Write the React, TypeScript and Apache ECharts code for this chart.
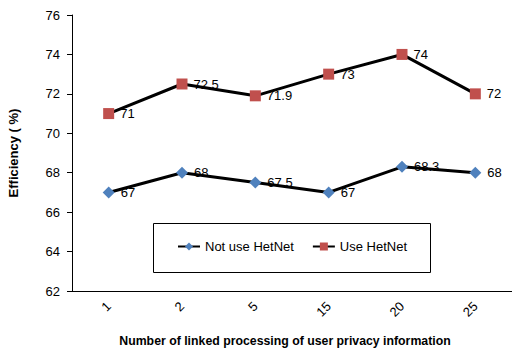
import React, { useEffect, useRef } from "react";
import * as echarts from "echarts";

const categories = ["1", "2", "5", "15", "20", "25"];
const notUseHetNet = [67, 68, 67.5, 67, 68.3, 68];
const useHetNet = [71, 72.5, 71.9, 73, 74, 72];
const yTicks = { min: 62, max: 76, interval: 2 };

export default function App() {
  const ref = useRef<HTMLDivElement>(null);
  useEffect(() => {
    const chart = echarts.init(ref.current!, undefined, { renderer: "svg" });
    const font = "Liberation Sans, Arial, sans-serif";
    chart.setOption({
      animation: false,
      backgroundColor: "#ffffff",
      textStyle: { fontFamily: font },
      grid: { left: 72, right: 0, top: 15, bottom: 60, containLabel: false, outerBoundsMode: "none" },
      legend: {
        left: 177,
        top: 240,
        padding: 0,
        itemWidth: 22,
        itemHeight: 10,
        itemGap: 18,
        textStyle: { fontSize: 13, color: "#000", fontFamily: font },
        data: ["Not use HetNet", "Use HetNet"],
      },
      graphic: [
        {
          type: "rect",
          shape: { x: 153.5, y: 223.5, width: 277, height: 49 },
          style: { fill: "#fff", stroke: "#000", lineWidth: 1 },
          z: 0,
        },
      ],
      xAxis: {
        type: "category",
        data: categories,
        boundaryGap: true,
        name: "Number of linked processing of user privacy information",
        nameLocation: "middle",
        nameGap: 44,
        nameTextStyle: {
          fontSize: 12.3,
          fontWeight: "bold",
          color: "#000",
          fontFamily: font,
          padding: [0, 14, 0, 0],
        },
        axisLine: { lineStyle: { color: "#000", width: 1 } },
        axisTick: { inside: true, length: 5, lineStyle: { color: "#000" } },
        axisLabel: { rotate: 45, fontSize: 13, color: "#000", margin: 13 },
        splitLine: { show: false },
      },
      yAxis: {
        type: "value",
        min: yTicks.min,
        max: yTicks.max,
        interval: yTicks.interval,
        name: "Efficiency ( %)",
        nameLocation: "middle",
        nameGap: 52,
        nameTextStyle: { fontSize: 13, fontWeight: "bold", color: "#000", fontFamily: font },
        axisLine: { show: true, lineStyle: { color: "#000", width: 1 } },
        axisTick: { show: true, length: 5, lineStyle: { color: "#000" } },
        axisLabel: { fontSize: 13, color: "#000", margin: 12 },
        splitLine: { show: false },
      },
      series: [
        {
          name: "Not use HetNet",
          type: "line",
          data: notUseHetNet,
          symbol: "diamond",
          symbolSize: 12,
          itemStyle: { color: "#4f81bd" },
          lineStyle: { color: "#000", width: 3 },
          label: { show: true, position: "right", distance: 6, fontSize: 13, color: "#000" },
          z: 3,
        },
        {
          name: "Use HetNet",
          type: "line",
          data: useHetNet,
          symbol: "rect",
          symbolSize: 11,
          itemStyle: { color: "#c0504d" },
          lineStyle: { color: "#000", width: 3 },
          label: { show: true, position: "right", distance: 6, fontSize: 13, color: "#000" },
          z: 3,
        },
      ],
    });
    return () => chart.dispose();
  }, []);
  return <div ref={ref} style={{ width: 512, height: 351, position: "absolute", left: 0, top: 0 }} />;
}
